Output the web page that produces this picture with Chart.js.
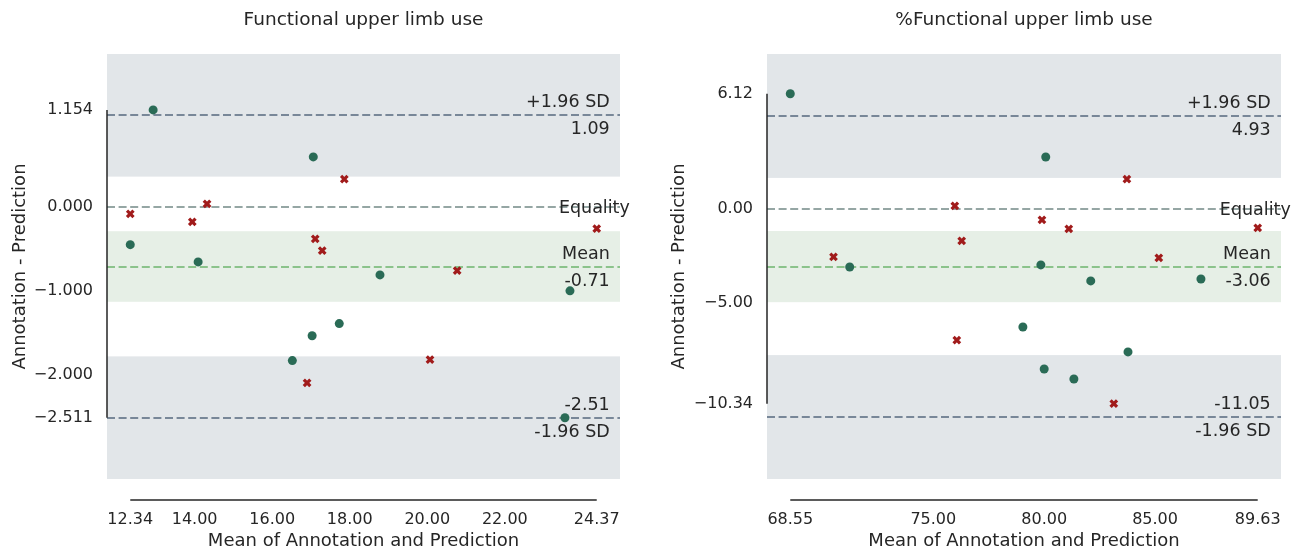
<!DOCTYPE html>
<html>
<head>
<meta charset="utf-8">
<script src="https://cdn.jsdelivr.net/npm/chart.js@4.4.0/dist/chart.umd.min.js"></script>
<style>
  html, body { margin: 0; padding: 0; background: #fff; overflow: hidden; }
  .wrap { display: flex; width: 1307px; height: 552px; }
  .panel { position: relative; height: 552px; flex: none; }
  #left { width: 653px; }
  #right { width: 654px; }
</style>
</head>
<body>
<div class="wrap">
  <div class="panel" id="left"><canvas id="c1"></canvas></div>
  <div class="panel" id="right"><canvas id="c2"></canvas></div>
</div>
<script>
// LEFT: Functional upper limb use
const fulCircleX = [12.34, 12.93, 14.09, 17.06, 16.52, 17.03, 17.73, 18.78, 23.68, 23.55];
const fulCircleY = [-0.45, 1.154, -0.655, 0.595, -1.83, -1.535, -1.39, -0.81, -1.00, -2.511];
const fulCrossX = [12.34, 13.94, 14.32, 17.11, 17.29, 17.86, 16.90, 20.77, 20.07, 24.37];
const fulCrossY = [-0.083, -0.18, 0.036, -0.38, -0.52, 0.33, -2.095, -0.76, -1.82, -0.26];
const fulStats = [1.09, -0.71, -2.51];          // +1.96 SD, mean, -1.96 SD
const fulBands = [[0.36, 1.82], [-1.13, -0.29], [-3.24, -1.78]];
const fulXTicks = [12.34, 14, 16, 18, 20, 22, 24.37];
const fulYTicks = [1.154, 0, -1, -2, -2.511];

// RIGHT: %Functional upper limb use
const pctCircleX = [68.55, 71.23, 80.07, 79.85, 82.10, 87.07, 79.04, 80.00, 81.34, 83.78];
const pctCircleY = [6.12, -3.08, 2.76, -2.97, -3.82, -3.72, -6.27, -8.50, -9.03, -7.59];
const pctCrossX = [70.50, 75.97, 76.28, 76.06, 79.90, 81.11, 83.73, 85.17, 89.63, 83.14];
const pctCrossY = [-2.55, 0.16, -1.70, -6.96, -0.58, -1.06, 1.59, -2.60, -1.00, -10.34];
const pctStats = [4.93, -3.06, -11.05];
const pctBands = [[1.65, 8.23], [-4.95, -1.17], [-14.34, -7.76]];
const pctXTicks = [68.55, 75, 80, 85, 89.63];
const pctYTicks = [6.12, 0, -5, -10.34];

const TXT = '#262626';
const FONT = 'DejaVu Sans';
const GRAY_BAND = '#e2e6e9';
const GREEN_BAND = '#e6efe6';
const SD_LINE = '#788798';
const EQ_LINE = '#95a6a4';
const MEAN_LINE = '#8bc38b';

function minus(s) { return s.replace('-', '\u2212'); }

// bands, reference lines, labels and despined axes
function overlay(stats, bands, xTicks, yTicks) {
  return {
    id: 'overlay',
    beforeDatasetsDraw(chart) {
      const {ctx, chartArea: a, scales: {y}} = chart;
      ctx.save();
      const colors = [GRAY_BAND, GREEN_BAND, GRAY_BAND];
      bands.forEach((b, i) => {
        const top = y.getPixelForValue(b[1]);
        const bot = y.getPixelForValue(b[0]);
        ctx.fillStyle = colors[i];
        ctx.fillRect(a.left, top, a.right - a.left, bot - top);
      });
      const lines = [[stats[0], SD_LINE], [0, EQ_LINE], [stats[1], MEAN_LINE], [stats[2], SD_LINE]];
      ctx.lineWidth = 2;
      ctx.setLineDash([8, 3.6]);
      lines.forEach(l => {
        const py = Math.round(y.getPixelForValue(l[0]));
        ctx.strokeStyle = l[1];
        ctx.beginPath();
        ctx.moveTo(a.left, py);
        ctx.lineTo(a.right, py);
        ctx.stroke();
      });
      ctx.restore();
    },
    afterDatasetsDraw(chart) {
      const {ctx, chartArea: a, scales: {y}} = chart;
      const w = a.right - a.left;
      const xr = a.left + 0.98 * w;
      ctx.save();
      ctx.fillStyle = TXT;
      ctx.font = '17.5px "' + FONT + '"';
      ctx.textBaseline = 'alphabetic';
      ctx.textAlign = 'right';
      const labels = [
        ['+1.96 SD', stats[0], -8], [stats[0].toFixed(2), stats[0], 19],
        ['Mean', stats[1], -8], [stats[1].toFixed(2), stats[1], 19],
        [stats[2].toFixed(2), stats[2], -8], ['-1.96 SD', stats[2], 19]
      ];
      labels.forEach(l => ctx.fillText(l[0], xr, y.getPixelForValue(l[1]) + l[2]));
      ctx.textAlign = 'center';
      ctx.fillText('Equality', a.left + 0.95 * w, y.getPixelForValue(0) + 6.5);
      ctx.restore();
    },
    afterDraw(chart) {
      const {ctx, chartArea: a, scales: {x, y}} = chart;
      ctx.save();
      ctx.strokeStyle = TXT;
      ctx.lineWidth = 1.5;
      ctx.beginPath();
      ctx.moveTo(a.left, y.getPixelForValue(yTicks[0]));
      ctx.lineTo(a.left, y.getPixelForValue(yTicks[yTicks.length - 1]));
      const sy = a.bottom + 21;
      ctx.moveTo(x.getPixelForValue(xTicks[0]), sy);
      ctx.lineTo(x.getPixelForValue(xTicks[xTicks.length - 1]), sy);
      ctx.stroke();
      ctx.restore();
    }
  };
}

function makeChart(id, p) {
  return new Chart(document.getElementById(id), {
    type: 'scatter',
    data: {
      datasets: [{
        data: p.cx.map((v, i) => ({x: v, y: p.cy[i]})),
        pointStyle: 'circle',
        pointRadius: 4.5,
        backgroundColor: '#2a6b56',
        borderWidth: 0
      }, {
        data: p.rx.map((v, i) => ({x: v, y: p.ry[i]})),
        pointStyle: 'crossRot',
        pointRadius: 4.6,
        borderColor: '#a11b1b',
        borderWidth: 3.2
      }]
    },
    options: {
      responsive: true,
      maintainAspectRatio: false,
      animation: false,
      layout: { padding: { left: 0, right: p.padRight, top: 0, bottom: 0 } },
      plugins: {
        legend: { display: false },
        tooltip: { enabled: false },
        title: {
          display: true,
          text: p.title,
          fullSize: false,
          color: TXT,
          font: { family: FONT, size: 18.5, weight: 'normal' },
          padding: { top: 9, bottom: 22.8 }
        }
      },
      scales: {
        x: {
          type: 'linear',
          min: p.xMin, max: p.xMax,
          bounds: 'data',
          grid: { display: false, drawTicks: false },
          border: { display: false },
          afterBuildTicks: s => { s.ticks = p.xTicks.map(v => ({value: v})); },
          afterFit: s => { s.height = 73; s.paddingLeft = 0; s.paddingRight = 0; },
          ticks: {
            autoSkip: false, maxRotation: 0, padding: 31,
            color: TXT, font: { family: FONT, size: 16 },
            callback: v => v.toFixed(2)
          },
          title: {
            display: true, text: 'Mean of Annotation and Prediction', color: TXT,
            font: { family: FONT, size: 18 }, padding: { top: 0, bottom: 0 }
          }
        },
        y: {
          type: 'linear',
          min: p.yMin, max: p.yMax,
          bounds: 'data',
          grid: { display: false, drawTicks: false },
          border: { display: false },
          afterBuildTicks: s => { s.ticks = p.yTicks.map(v => ({value: v})); },
          afterFit: s => { s.width = p.axisW; s.paddingTop = 0; s.paddingBottom = 0; },
          ticks: {
            autoSkip: false, padding: 14,
            color: TXT, font: { family: FONT, size: 16 },
            callback: v => minus(v.toFixed(p.yDec))
          },
          title: {
            display: true, text: 'Annotation - Prediction', color: TXT,
            font: { family: FONT, size: 18 }, padding: { top: p.yTitlePad, bottom: 0 }
          }
        }
      }
    },
    plugins: [overlay(p.stats, p.bands, p.xTicks, p.yTicks)]
  });
}

makeChart('c1', {
  title: 'Functional upper limb use',
  cx: fulCircleX, cy: fulCircleY, rx: fulCrossX, ry: fulCrossY,
  stats: fulStats, bands: fulBands, xTicks: fulXTicks, yTicks: fulYTicks,
  xMin: 11.74, xMax: 24.97, yMin: -3.24, yMax: 1.82, yDec: 3,
  axisW: 107, padRight: 33, yTitlePad: 9.2
});

makeChart('c2', {
  title: '%Functional upper limb use',
  cx: pctCircleX, cy: pctCircleY, rx: pctCrossX, ry: pctCrossY,
  stats: pctStats, bands: pctBands, xTicks: pctXTicks, yTicks: pctYTicks,
  xMin: 67.50, xMax: 90.68, yMin: -14.34, yMax: 8.23, yDec: 2,
  axisW: 114, padRight: 26, yTitlePad: 15.2
});
</script>
</body>
</html>
